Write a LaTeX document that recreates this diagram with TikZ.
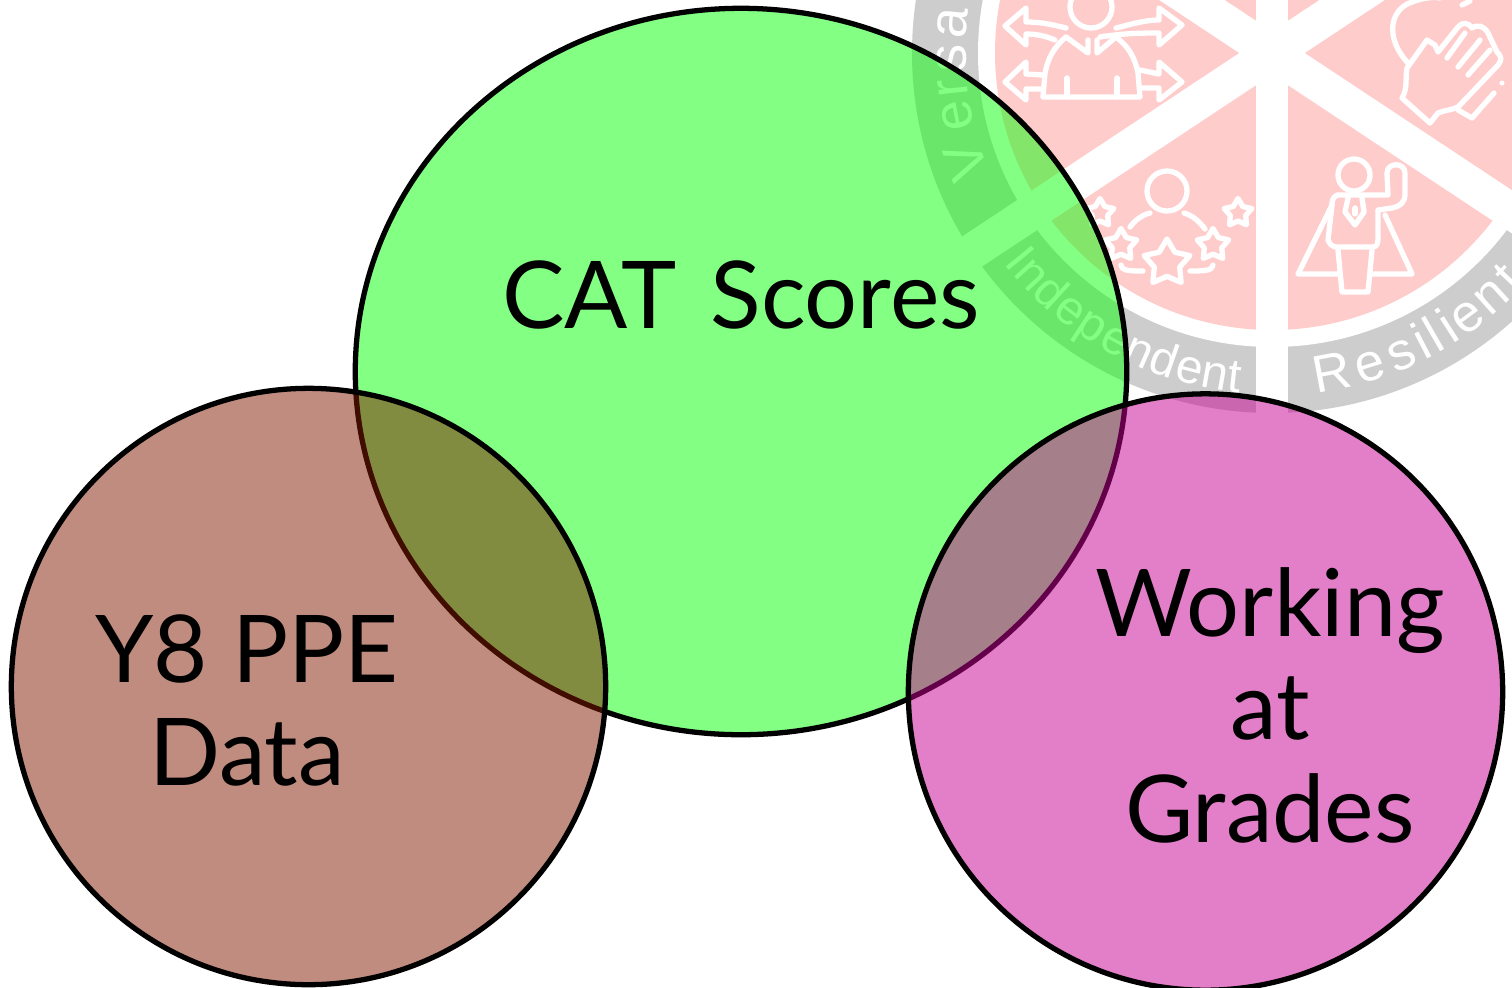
\documentclass[tikz,border=0pt]{standalone}
\usepackage{fontspec}
\setmainfont{Lato}
\newfontfamily\ringfont{Liberation Sans}
\usetikzlibrary{shapes,calc}
\definecolor{catgreen}{RGB}{8,255,8}
\definecolor{ppebrown}{RGB}{129,27,0}
\definecolor{gradepink}{RGB}{200,0,146}
\definecolor{wheelred}{RGB}{255,204,204}
\definecolor{wheelgrey}{RGB}{205,205,205}
\tikzstyle{venn}=[ellipse,draw=black,line width=1.5pt,fill opacity=0.5,text opacity=1,inner sep=0pt,outer sep=0pt]
\tikzstyle{biglabel}=[font=\fontsize{26.6}{29.3}\selectfont,align=center,text=black,inner sep=0pt]
\tikzstyle{ringletter}=[font=\ringfont\fontsize{13.6}{14}\selectfont,text=white,anchor=base,inner sep=0pt]
\tikzstyle{icon}=[draw=white,line width=1.5pt,line join=round,line cap=round]
\tikzstyle{iconstar}=[star,star points=5,star point ratio=1.8,icon,inner sep=0pt,outer sep=0pt]
\begin{document}
\begin{tikzpicture}[x=0.01cm,y=0.01cm]
    \clip (0,0) rectangle (1512,-987);
    \fill[white] (0,0) rectangle (1512,-987);
    \coordinate (hub) at (1272,-53);
    % The wheel behind the circles
    \fill[wheelgrey] (hub) circle (360);
    \fill[white] (hub) circle (294);
    \fill[wheelred] (hub) circle (277);
    \draw[white,line width=0.32cm] ($(hub)+(90:400)$) -- ($(hub)-(90:400)$);
    \foreach \ang in {33.5,-33.5}
        \draw[white,line width=0.36cm] ($(hub)+(\ang:400)$) -- ($(hub)-(\ang:400)$);
    % Letters on the ring
    \foreach \ch/\ang [count=\i] in {V/199.6, e/191.2, r/186.2, s/181, a/174.6}
        \node[ringletter,font=\ringfont\fontsize{15.5}{16}\selectfont,rotate=\ang-90] (ver\i) at ($(hub)+(\ang:306)$) {\ch};
    \foreach \ch/\ang [count=\i] in {I/219.2, n/222.7, d/227.3, e/232, p/236.7, e/241.4, n/246, d/250.7, e/255.4, n/260, t/263.5}
        \node[ringletter,rotate=\ang+90] (ind\i) at ($(hub)+(\ang:341)$) {\ch};
    \foreach \ch/\ang [count=\i] in {R/280.7, e/287.3, s/293.3, i/297.3, l/299.9, i/302.7, e/306.5, n/312, t/316.4}
        \node[ringletter,font=\ringfont\fontsize{15}{16}\selectfont,rotate=\ang+90] (res\i) at ($(hub)+(\ang:343)$) {\ch};
    % Person with arrows
    \draw[icon] (1091,-7) circle (21);
    \draw[icon] (1043,-97) -- (1140,-97) (1043,-97) -- (1045,-73) .. controls (1048,-58) and (1054,-47) .. (1066,-37) -- (1088,-53) -- (1088,-40)
        (1140,-97) -- (1138,-73) .. controls (1135,-58) and (1129,-47) .. (1116,-37) -- (1097,-53) -- (1097,-40);
    \draw[icon] (1067,-78) -- (1067,-97) (1117,-78) -- (1117,-97);
    \draw[icon] (1066,-28) .. controls (1050,-24) and (1040,-22) .. (1026,-22) -- (1026,-8) -- (1005,-26) -- (1026,-45) -- (1026,-34) .. controls (1036,-34) and (1046,-36) .. (1055,-40);
    \draw[icon] (1116,-28) .. controls (1132,-24) and (1145,-20) .. (1159,-20) -- (1159,-8) -- (1182,-25) -- (1159,-45) -- (1159,-33) .. controls (1145,-33) and (1125,-33) .. (1100,-37);
    \draw[icon] (1043,-75) -- (1026,-74) -- (1026,-62) -- (1005,-82) -- (1026,-100) -- (1026,-89) -- (1043,-89);
    \draw[icon] (1140,-70) -- (1159,-74) -- (1159,-62) -- (1182,-82) -- (1159,-100) -- (1159,-88) -- (1140,-88);
    % Hand and heart
    \draw[icon] (1408,-63) .. controls (1386,-40) and (1388,-10) .. (1412,-2) .. controls (1425,3) and (1435,3) .. (1440,2);
    \draw[icon] (1462,-5) -- (1470,-1);
    \draw[icon] (1402,-98) -- (1430,-123) -- (1438,-113) .. controls (1445,-110) and (1452,-110) .. (1458,-107) -- (1498,-65) .. controls (1502,-60) and (1502,-57) .. (1497,-52) -- (1488,-33) .. controls (1484,-26) and (1478,-24) .. (1472,-28) .. controls (1468,-22) and (1462,-22) .. (1458,-27) -- (1438,-52) -- (1435,-45) -- (1427,-40) -- (1407,-68) .. controls (1405,-78) and (1408,-88) .. (1402,-98);
    \draw[icon] (1447,-58) -- (1465,-33) (1458,-67) -- (1480,-40) (1468,-75) -- (1490,-50);
    \draw[icon] (1458,-110) -- (1472,-118) -- (1494,-93);
    \fill[white] (1502,-83) circle (2.5);
    % Person with stars
    \draw[icon] (1167,-191) circle (20);
    \draw[icon] (1130,-227) .. controls (1135,-220) and (1142,-215) .. (1150,-213);
    \draw[icon] (1184,-213) .. controls (1192,-215) and (1200,-222) .. (1205,-229);
    \draw[icon] (1121,-265) .. controls (1122,-270) and (1125,-271) .. (1143,-271);
    \draw[icon] (1213,-265) .. controls (1212,-270) and (1208,-271) .. (1190,-271);
    \foreach \pos/\size [count=\i] in {(1167,-263)/0.48, (1213,-245)/0.33, (1238,-213)/0.29, (1121,-245)/0.33, (1100,-213)/0.29}
        \node[iconstar,minimum size=\size cm] (star\i) at \pos {};
    % Person with cape
    \draw[icon] (1354,-175) circle (16);
    \draw[icon] (1337,-195) .. controls (1332,-198) and (1332,-202) .. (1332,-205) -- (1328,-240) .. controls (1330,-245) and (1333,-247) .. (1337,-247) -- (1373,-247) .. controls (1377,-247) and (1378,-243) .. (1378,-238) -- (1378,-210) -- (1392,-208) .. controls (1402,-206) and (1405,-200) .. (1405,-195) -- (1405,-173) .. controls (1405,-162) and (1387,-162) .. (1387,-173) -- (1388,-195) -- (1337,-195);
    \draw[icon] (1348,-198) -- (1345,-212) -- (1355,-225) -- (1364,-212) -- (1362,-198);
    \draw[icon] (1355,-208) -- (1355,-214);
    \draw[icon] (1338,-250) -- (1342,-292) -- (1368,-292) -- (1372,-250);
    \draw[icon] (1332,-205) -- (1298,-274) -- (1340,-274);
    \draw[icon] (1385,-215) -- (1412,-274) -- (1370,-274);
    % The three circles, then their labels
    \node[venn,fill=catgreen,minimum width=7.71cm,minimum height=7.26cm] (cat) at (741,-371.5) {};
    \node[venn,fill=ppebrown,minimum width=5.94cm,minimum height=5.96cm] (ppe) at (308.5,-686.5) {};
    \node[venn,fill=gradepink,minimum width=5.94cm,minimum height=5.96cm] (grades) at (1205.5,-692) {};
    \node[biglabel] (catlabel) at (741,-295) {CAT\hspace{2.8pt} Scores};
    \node[biglabel] (ppelabel) at (247,-700) {Y8 PPE\\Data};
    \node[biglabel] (gradeslabel) at (1270,-705) {Working\\at\\Grades};
\end{tikzpicture}
\end{document}
